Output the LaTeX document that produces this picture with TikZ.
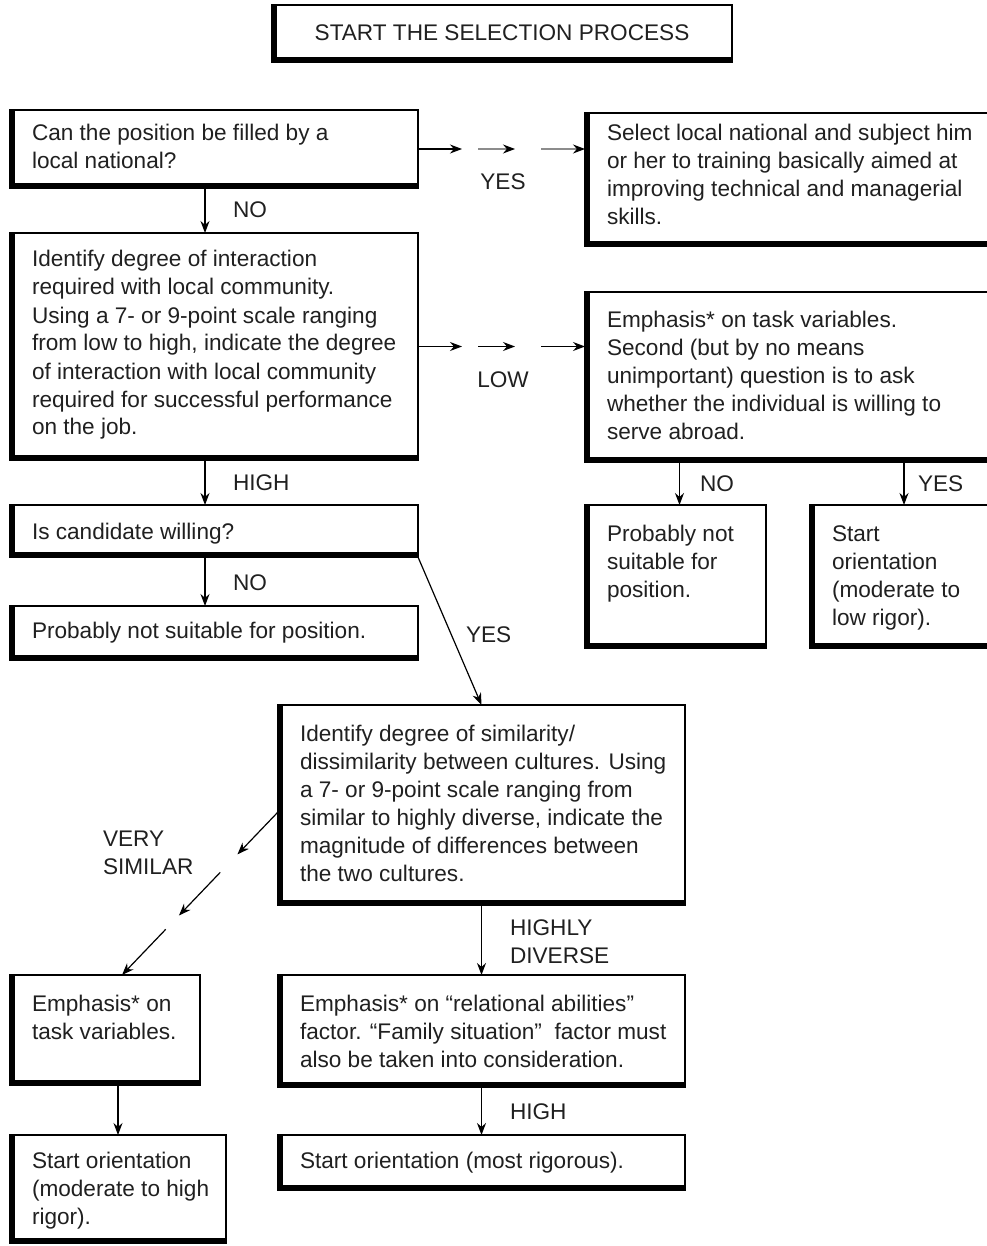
\documentclass[tikz,border=0pt]{standalone}
\usepackage{fontspec}
\setmainfont{Liberation Sans}
\usetikzlibrary{arrows.meta,calc}
\definecolor{ink}{HTML}{202020}

% a text block whose node baseline is the baseline of its first line
\newcommand{\tlines}[1]{\parbox[t]{560pt}{\raggedright #1}}

% box with thin top/right edges and heavy left/bottom edges, text set from its top-left corner
% #1 name, #2 x, #3 y (top-left), #4 width, #5 height, #6 first baseline below top, #7 text
\newcommand{\panel}[7]{%
  \node[frame, minimum width=#4pt, minimum height=#5pt] (#1) at (#2,#3) {};
  \draw[heavy] ([xshift=2.5pt]#1.north west) -- ([shift={(2.5pt,2.5pt)}]#1.south west) -- ([yshift=2.5pt]#1.south east);
  \node[txt, anchor=base west] (#1-txt) at ($(#1.north west)+(22,#6)$) {\tlines{#7}};
}

\begin{document}
\begin{tikzpicture}[x=1pt,y=-1pt,
  frame/.style={draw=black, line width=1.2pt, inner sep=0pt, outer sep=0pt, anchor=north west},
  heavy/.style={draw=black, line width=5pt},
  txt/.style={inner sep=0pt, outer sep=0pt, text=ink, font=\fontsize{22.6}{28}\selectfont},
  lbl/.style={txt, anchor=west},
  arr/.style={draw=black, line width=1.2pt, -{Stealth[length=12pt,width=9pt]}},
  greyarr/.style={draw=black!45, line width=1.2pt, -{Stealth[length=12pt,width=9pt,color=black]}}
]
\useasboundingbox[fill=white] (0,0) rectangle (986,1246);

% title box
\node[frame, minimum width=460pt, minimum height=57pt] (start) at (272,5) {};
\draw[heavy] ([xshift=2.5pt]start.north west) -- ([shift={(2.5pt,2.5pt)}]start.south west) -- ([yshift=2.5pt]start.south east);
\node[txt] (start-txt) at ([yshift=1pt]start.center) {START THE SELECTION PROCESS};

% left column
\panel{q1}{10}{110}{408}{78}{31}{Can the position be filled by a\\local national?}
\panel{ia}{10}{233}{408}{227}{34}{Identify degree of interaction\\required with local community.\\Using a 7- or 9-point scale ranging\\from low to high, indicate the degree\\of interaction with local community\\required for successful performance\\on the job.}
\panel{will}{10}{505}{408}{52}{34}{Is candidate willing?}
\panel{probL}{10}{606}{408}{54}{32}{Probably not suitable for position.}

% right column
\panel{sel}{585}{113}{405}{133}{28}{Select local national and subject him\\or her to training basically aimed at\\improving technical and managerial\\skills.}
\panel{emr}{585}{292}{405}{170}{35}{Emphasis* on task variables.\\Second (but by no means\\unimportant) question is to ask\\whether the individual is willing to\\serve abroad.}
\panel{probR}{585}{505}{181}{143}{36}{Probably not\\suitable for\\position.}
\panel{startR}{810}{505}{180}{143}{36}{Start\\orientation\\(moderate to\\low rigor).}

% lower part
\panel{sim}{278}{705}{407}{200}{36}{Identify degree of similarity/\\dissimilarity between cultures. Using\\a 7- or 9-point scale ranging from\\similar to highly diverse, indicate the\\magnitude of differences between\\the two cultures.}
\panel{emL}{10}{975}{190}{110}{36}{Emphasis* on\\task variables.}
\panel{rel}{278}{975}{407}{112}{36}{Emphasis* on “relational abilities”\\factor. “Family situation”\ \ factor must\\also be taken into consideration.}
\panel{startL}{10}{1135}{216}{108}{33}{Start orientation\\(moderate to high\\rigor).}
\panel{mostR}{278}{1135}{407}{55}{33}{Start orientation (most rigorous).}

% vertical connectors
\draw[arr] ([xshift=-9pt]q1.south) -- ([xshift=-9pt]ia.north);
\draw[arr] ([xshift=-9pt]ia.south) -- ([xshift=-9pt]will.north);
\draw[arr] ([xshift=-9pt]will.south) -- ([xshift=-9pt]probL.north);
\draw[arr] ([xshift=4pt]probR.north |- emr.south) -- ([xshift=4pt]probR.north);
\draw[arr] ([xshift=4pt]startR.north |- emr.south) -- ([xshift=4pt]startR.north);
\draw[arr] (sim.south) -- (rel.north);
\draw[arr] (rel.south) -- (mostR.north);
\draw[arr] (startL.north |- emL.south) -- (startL.north);
\draw[arr] (will.south east) -- (sim.north);

% broken horizontal connectors
\coordinate (yesA) at (q1.east);
\coordinate (yesB) at (sel.west |- q1.east);
\draw[arr] (yesA) -- ($(yesA)+(44,0)$);
\draw[greyarr] ($(yesA)+(60,0)$) -- ($(yesA)+(97,0)$);
\draw[greyarr] ($(yesA)+(123,0)$) -- (yesB);

\coordinate (lowA) at (ia.east);
\coordinate (lowB) at (emr.west |- ia.east);
\draw[arr] (lowA) -- ($(lowA)+(44,0)$);
\draw[arr] ($(lowA)+(60,0)$) -- ($(lowA)+(97,0)$);
\draw[arr] ($(lowA)+(123,0)$) -- (lowB);

% broken diagonal connector
\coordinate (vsA) at ([yshift=-7pt]sim.west);
\coordinate (vsB) at ([xshift=17pt]emL.north);
\draw[arr] (vsA) -- ($(vsA)!0.26!(vsB)$);
\draw[arr] ($(vsA)!0.37!(vsB)$) -- ($(vsA)!0.635!(vsB)$);
\draw[arr] ($(vsA)!0.72!(vsB)$) -- (vsB);

% connector labels
\node[lbl] (l-no1) at (233,210) {NO};
\node[txt] (l-yes1) at (503,182) {YES};
\node[lbl] (l-high1) at (233,483) {HIGH};
\node[txt] (l-low) at (503,380) {LOW};
\node[lbl] (l-no2) at (233,583) {NO};
\node[lbl] (l-yes2) at (466,635) {YES};
\node[lbl] (l-no3) at (700,484) {NO};
\node[lbl] (l-yes3) at (918,484) {YES};
\node[txt, anchor=base west] (l-vs) at (103,846) {\tlines{VERY\\SIMILAR}};
\node[txt, anchor=base west] (l-hd) at (510,935) {\tlines{HIGHLY\\DIVERSE}};
\node[lbl] (l-high2) at (510,1112) {HIGH};
\end{tikzpicture}
\end{document}
